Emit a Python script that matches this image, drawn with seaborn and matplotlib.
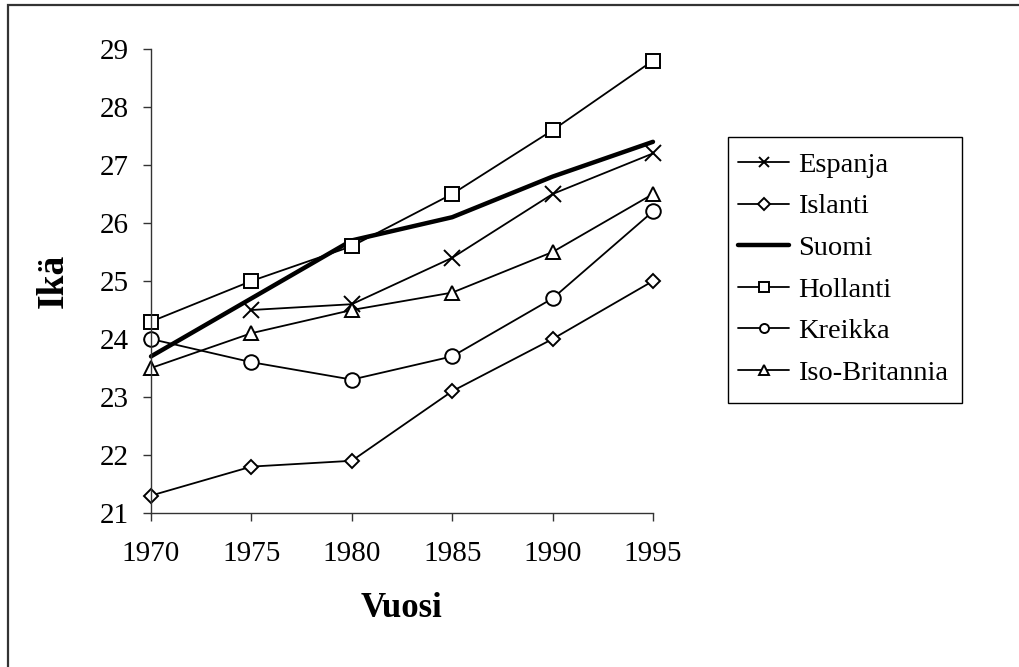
import numpy as np
import pandas as pd
import matplotlib
matplotlib.use("Agg")
import matplotlib.pyplot as plt
from matplotlib.patches import Rectangle
import seaborn as sns

# data
years = [1970, 1975, 1980, 1985, 1990, 1995]
espanja = [np.nan, 24.5, 24.6, 25.4, 26.5, 27.2]
islanti = [21.3, 21.8, 21.9, 23.1, 24.0, 25.0]
suomi = [23.7, 24.7, 25.7, 26.1, 26.8, 27.4]
hollanti = [24.3, 25.0, 25.6, 26.5, 27.6, 28.8]
kreikka = [24.0, 23.6, 23.3, 23.7, 24.7, 26.2]
iso_britannia = [23.5, 24.1, 24.5, 24.8, 25.5, 26.5]

series = [
    ("Espanja", espanja, "x"),
    ("Islanti", islanti, "D"),
    ("Suomi", suomi, None),
    ("Hollanti", hollanti, "s"),
    ("Kreikka", kreikka, "o"),
    ("Iso-Britannia", iso_britannia, "^"),
]
marker_sizes = {"x": 11, "D": 7.5, "s": 10.5, "o": 10.5, "^": 10}

sns.set_style("ticks")
plt.rcParams["font.family"] = ["Liberation Serif", "DejaVu Serif"]
plt.rcParams["text.color"] = "black"
plt.rcParams["axes.labelcolor"] = "black"
plt.rcParams["xtick.color"] = "black"
plt.rcParams["ytick.color"] = "black"

W, H = 1019, 667
fig = plt.figure(figsize=(W / 100, H / 100), dpi=100)
ax = fig.add_axes([0.1482, 0.2309, 0.6408 - 0.1482, 0.9265 - 0.2309])

for name, vals, mk in series:
    df = pd.DataFrame({"Vuosi": years, "Ika": vals}).dropna()
    if mk is None:
        sns.lineplot(data=df, x="Vuosi", y="Ika", ax=ax, color="black",
                     linewidth=3.2, label=name, clip_on=False)
    else:
        sns.lineplot(data=df, x="Vuosi", y="Ika", ax=ax, color="black",
                     linewidth=1.3, marker=mk, markersize=marker_sizes[mk],
                     markerfacecolor="white", markeredgecolor="black",
                     markeredgewidth=1.4, label=name, clip_on=False)

ax.set_xlim(1970, 1995)
ax.set_ylim(21, 29)
ax.set_xticks(years)
ax.set_yticks(range(21, 30))
for side in ["top", "right"]:
    ax.spines[side].set_visible(False)
for side in ["left", "bottom"]:
    ax.spines[side].set_color("#333333")
    ax.spines[side].set_linewidth(1.0)
ax.tick_params(axis="both", direction="out", length=6, width=1.0,
               color="#333333", labelcolor="black", labelsize=21)
ax.tick_params(axis="x", pad=14)
ax.tick_params(axis="y", pad=10)

ax.set_xlabel("Vuosi", fontsize=25, fontweight="bold", labelpad=18)
ax.set_ylabel("Ikä", fontsize=27, fontweight="bold", labelpad=21)

leg = ax.legend(loc="upper left", bbox_to_anchor=(728 / W, 1 - 142 / H),
                bbox_transform=fig.transFigure, fontsize=20.5, frameon=False,
                borderpad=0.35, labelspacing=0.55, handlelength=1.8,
                handletextpad=0.32, borderaxespad=0)
for h in leg.legend_handles:
    h.set_markersize(6.5)

# legend box (Excel style, extra room at the bottom)
fig.add_artist(Rectangle((728 / W, 1 - 403 / H), (962 - 728) / W, (403 - 137) / H,
                         transform=fig.transFigure, fill=False,
                         edgecolor="black", linewidth=1.0))

# outer chart border
fig.add_artist(Rectangle((8 / W, -0.1), 1.2, 1 - 5 / H + 0.1,
                         transform=fig.transFigure, fill=False,
                         edgecolor="#333333", linewidth=1.6))

fig.savefig("out.png", dpi=100)
